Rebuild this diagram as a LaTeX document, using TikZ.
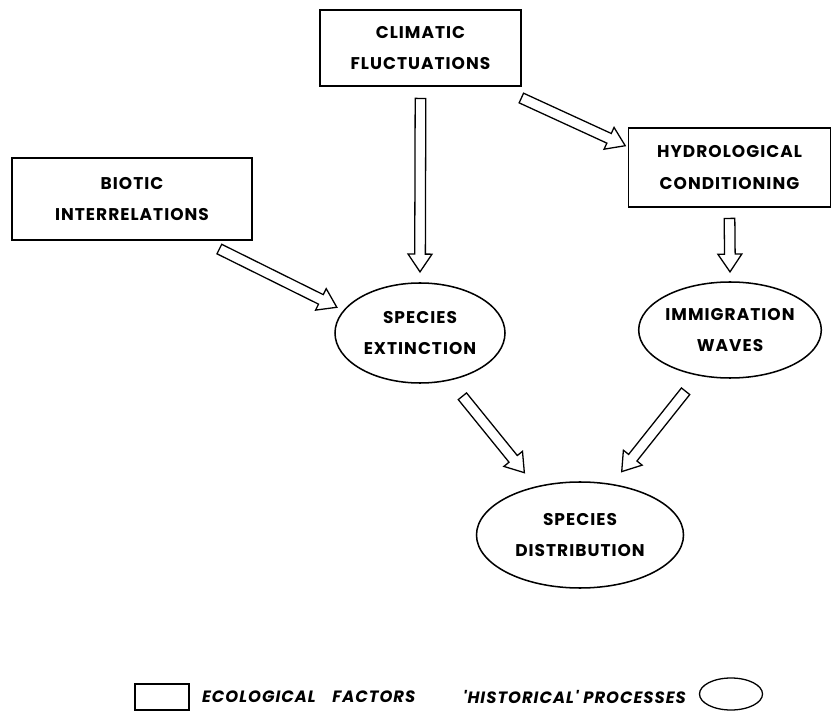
\documentclass[tikz,border=0pt]{standalone}
\usepackage{fontspec}
\setmainfont{Poppins}
\newfontfamily\diagfont{Poppins}[LetterSpace=6]
\usetikzlibrary{shapes.geometric,shapes.arrows,calc}

% hollow block arrow from tail point to tip point
\newcommand{\flowarrow}[2]{%
  \path let \p1=(#1), \p2=(#2), \n1={atan2(\y2-\y1,\x2-\x1)}, \n2={veclen(\x2-\x1,\y2-\y1)} in
    node[flow, minimum height=\n2, rotate=\n1, anchor=tail] at (\p1) {\rule{0pt}{0.28cm}};}

\begin{document}
\begin{tikzpicture}[x=0.03cm, y=-0.03cm,
    every node/.style={font=\diagfont\bfseries\fontsize{14.5}{27}\selectfont},
    factor/.style={draw, rectangle, line width=1.3pt, align=center, inner sep=0pt},
    process/.style={draw, ellipse, line width=1.3pt, align=center, inner sep=0pt},
    flow/.style={single arrow, draw, line width=1.1pt, fill=white, inner sep=0pt,
      single arrow head extend=0.2cm, single arrow tip angle=68},
    legend/.style={font=\diagfont\bfseries\itshape\fontsize{14}{18}\selectfont}]
  \useasboundingbox (0,0) rectangle (833,712);
  % ecological factors
  \node[factor, minimum width=6.03cm, minimum height=2.28cm] (clim) at (420.5,48) {CLIMATIC\\FLUCTUATIONS};
  \node[factor, minimum width=6.06cm, minimum height=2.37cm] (hydro) at (729.5,167.5) {HYDROLOGICAL\\CONDITIONING};
  \node[factor, minimum width=7.2cm, minimum height=2.46cm] (biotic) at (132,199) {BIOTIC\\INTERRELATIONS};
  % historical processes
  \node[process, minimum width=5.1cm, minimum height=3cm] (ext) at (420,333) {SPECIES\\EXTINCTION};
  \node[process, minimum width=5.31cm, minimum height=2.88cm] (imm) at (730,330) {IMMIGRATION\\WAVES};
  \node[process, minimum width=6.21cm, minimum height=3.18cm] (dist) at (580,535) {SPECIES\\DISTRIBUTION};
  % arrows
  \flowarrow{$(clim.south)+(0,11)$}{$(ext.north)+(0,-11)$}
  \flowarrow{$(clim.south east)+(-1,11)$}{$(hydro.west)+(-3,-22)$}
  \flowarrow{$(biotic.south east)+(-34,8)$}{$(ext.west)+(2,-26)$}
  \flowarrow{$(hydro.south)+(0,10)$}{$(imm.north)+(0,-10)$}
  \flowarrow{$(ext.south)+(42,12)$}{$(dist.north)+(-56,-9)$}
  \flowarrow{$(imm.south)+(-44,12)$}{$(dist.north)+(42,-10)$}
  % legend
  \node[draw, rectangle, line width=1.1pt, minimum width=1.62cm, minimum height=0.78cm] (keybox) at (162,697) {};
  \node[legend, anchor=west] (keyfac) at (198,697) {ECOLOGICAL\hspace{0.5cm}FACTORS};
  \node[legend, anchor=east] (keyproc) at (690,697) {'HISTORICAL' PROCESSES};
  \node[draw, ellipse, line width=1.1pt, minimum width=1.89cm, minimum height=0.96cm] (keyell) at (731,694) {};
\end{tikzpicture}
\end{document}
